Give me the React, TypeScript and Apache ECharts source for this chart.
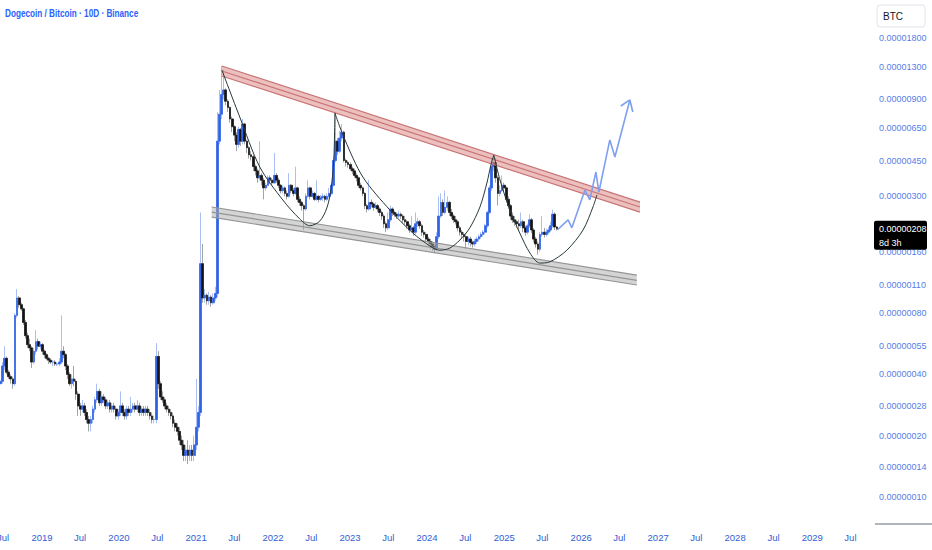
import React, { useEffect, useRef } from "react";
import * as echarts from "echarts";

const FONT = '"Liberation Sans", Arial, sans-serif';

// ---- candles (DOGE/BTC in satoshis, 10D) ----
const startDate = "2018-06-17";
const candleStepDays = 10;
const firstOpen = 36;
const closes = [
  37, 44, 48, 41, 39, 38, 36, 78, 95, 88,
  84, 72, 62, 56, 54, 46, 52, 58, 55, 56,
  52, 50, 48, 47, 46, 46, 45, 45, 46, 52,
  50, 44, 40, 36, 38, 37, 32, 28, 27, 28,
  26, 24, 23, 24, 27, 30, 33, 29, 31, 30,
  28, 29, 27, 28, 27, 25, 26, 28, 26, 25,
  27, 26, 27, 28, 27, 28, 26, 27, 26, 27,
  26, 25, 24, 24, 49, 36, 31, 30, 28, 27,
  26, 25, 23, 22, 21, 19, 18, 16, 17, 16,
  17, 16, 18, 22, 26, 140, 95, 98, 92, 96,
  90, 95, 100, 560, 760, 950, 1000, 880, 820, 720,
  660, 600, 540, 640, 560, 680, 560, 520, 480, 470,
  420, 400, 370, 380, 360, 330, 340, 370, 360, 350,
  380, 360, 340, 320, 330, 310, 300, 340, 320, 310,
  330, 290, 280, 270, 260, 300, 330, 300, 310, 290,
  300, 290, 295, 300, 290, 300, 310, 340, 450, 560,
  500, 580, 620, 450, 440, 430, 410, 400, 380, 370,
  340, 330, 310, 270, 260, 280, 275, 265, 270, 260,
  250, 240, 220, 210, 230, 260, 250, 245, 240, 245,
  240, 230, 225, 215, 205, 210, 200, 220, 225, 215,
  200, 195, 185, 180, 175, 170, 165, 190, 240, 280,
  250, 265, 280, 250, 240, 230, 225, 210, 200, 195,
  190, 180, 185, 178, 175, 180, 185, 190, 195, 200,
  215, 250, 330, 420, 440, 370, 310, 320, 340, 330,
  290, 270, 240, 230, 225, 220, 215, 225, 210, 200,
  215, 230, 205, 185, 175, 165, 195, 200, 195, 200,
  205, 215, 245, 212, 208,
];
const highs = [
  40, 46, 55, 49, 42, 40, 39, 80, 105, 97,
  90, 85, 74, 64, 60, 55, 54, 66, 60, 58,
  57, 53, 51, 49, 48, 47, 47, 46, 48, 78,
  55, 51, 45, 41, 40, 44, 38, 33, 29, 30,
  29, 27, 25, 25, 28, 31, 36, 34, 33, 32,
  31, 30, 30, 29, 29, 28, 27, 33, 29, 27,
  28, 28, 31, 29, 29, 30, 29, 28, 28, 28,
  28, 27, 26, 25, 57, 52, 37, 33, 31, 29,
  28, 27, 26, 24, 23, 22, 20, 19, 18, 19,
  18, 18, 20, 38, 28, 250, 175, 105, 100, 102,
  98, 100, 108, 780, 1000, 1310, 1250, 1020, 900, 830,
  740, 670, 620, 660, 650, 720, 690, 570, 530, 500,
  480, 430, 410, 560, 390, 370, 350, 380, 380, 370,
  490, 390, 370, 345, 340, 335, 320, 390, 345, 330,
  420, 335, 300, 285, 275, 310, 360, 335, 320, 315,
  360, 305, 305, 310, 305, 310, 330, 350, 470, 780,
  580, 630, 680, 630, 460, 450, 440, 420, 410, 390,
  375, 350, 335, 315, 275, 360, 290, 280, 280, 275,
  265, 255, 245, 225, 250, 270, 265, 255, 250, 255,
  250, 245, 240, 230, 220, 240, 215, 250, 235, 230,
  220, 205, 200, 190, 185, 180, 175, 200, 300, 310,
  290, 320, 300, 285, 260, 245, 240, 230, 215, 205,
  200, 195, 190, 190, 182, 185, 190, 195, 200, 205,
  220, 255, 340, 470, 475, 460, 380, 340, 380, 350,
  335, 300, 275, 250, 240, 230, 230, 250, 230, 215,
  220, 245, 235, 210, 190, 180, 200, 240, 210, 208,
  212, 225, 258, 250, 215,
];
const lows = [
  35, 36, 42, 40, 38, 36, 34, 35, 76, 85,
  82, 70, 60, 54, 52, 43, 45, 50, 53, 53,
  50, 48, 47, 45, 45, 44, 44, 44, 44, 45,
  48, 42, 38, 35, 34, 35, 30, 25, 25, 26,
  25, 23, 21, 21, 23, 26, 29, 28, 28, 29,
  27, 27, 26, 26, 26, 24, 24, 25, 25, 24,
  24, 25, 25, 26, 26, 26, 25, 25, 25, 25,
  25, 24, 23, 23, 23, 34, 30, 29, 27, 26,
  25, 24, 22, 21, 20, 18, 17, 15, 15, 14.5,
  15, 15, 15, 17, 21, 25, 90, 90, 88, 88,
  86, 88, 92, 96, 540, 720, 900, 840, 780, 690,
  620, 560, 500, 520, 530, 540, 540, 490, 460, 450,
  400, 380, 350, 360, 340, 290, 320, 335, 345, 340,
  345, 350, 330, 310, 310, 300, 290, 295, 310, 300,
  305, 280, 270, 255, 205, 255, 295, 290, 295, 285,
  285, 280, 285, 285, 280, 285, 295, 305, 335, 440,
  480, 490, 560, 440, 420, 415, 400, 385, 370, 355,
  330, 320, 300, 260, 250, 255, 265, 255, 260, 250,
  240, 230, 210, 200, 205, 225, 240, 238, 232, 235,
  232, 222, 218, 208, 198, 200, 192, 195, 212, 208,
  192, 188, 178, 172, 165, 162, 158, 162, 185, 235,
  240, 245, 255, 240, 232, 222, 218, 202, 192, 185,
  180, 165, 172, 170, 168, 170, 175, 180, 185, 190,
  195, 210, 245, 320, 400, 350, 270, 300, 315, 315,
  280, 260, 230, 222, 215, 210, 205, 210, 200, 192,
  195, 210, 198, 178, 168, 155, 160, 190, 188, 190,
  195, 200, 210, 205, 204,
];

// ---- axes ----
const priceTicks = [1800, 1300, 900, 650, 450, 300, 160, 110, 80, 55, 40, 28, 20, 14, 10];
const timeTicks = [
  "2018-07-01", "2019-01-01", "2019-07-01", "2020-01-01", "2020-07-01", "2021-01-01",
  "2021-07-01", "2022-01-01", "2022-07-01", "2023-01-01", "2023-07-01", "2024-01-01",
  "2024-07-01", "2025-01-01", "2025-07-01", "2026-01-01", "2026-07-01", "2027-01-01",
  "2027-07-01", "2028-01-01", "2028-07-01", "2029-01-01", "2029-07-01",
];
const timeMin = "2018-06-16";
const timeMax = "2029-10-16";
const priceMin = 7.36;
const priceMax = 2767;
const countdown = "8d 3h";
const chartTitle = "Dogecoin / Bitcoin · 10D · Binance";
const currency = "BTC";

// ---- drawings ----
const resistanceDates = ["2021-05-03", "2026-10-07"];
const resistanceTop = [1311, 281];
const resistanceMid = [1239, 266];
const resistanceBottom = [1171, 251];
const supportDates = ["2021-03-16", "2026-09-22"];
const supportTop = [266, 123];
const supportMid = [251, 116];
const supportBottom = [237, 110];

const arc1Dates = ["2021-05-03", "2021-07-27", "2021-10-30", "2022-02-16", "2022-05-08", "2022-06-24", "2022-08-11", "2022-09-13", "2022-10-02", "2022-10-16", "2022-10-21"];
const arc1Values = [1254, 736, 418, 288, 232, 215, 227, 263, 322, 453, 770];
const arc2Dates = ["2022-10-21", "2022-12-08", "2023-03-03", "2023-07-09", "2023-10-26", "2024-01-15", "2024-03-02", "2024-04-18", "2024-06-05", "2024-07-22", "2024-09-08", "2024-10-11", "2024-10-30", "2024-11-13"];
const arc2Values = [770, 568, 373, 257, 198, 171, 163, 167, 183, 210, 266, 349, 428, 479];
const arc3Dates = ["2024-11-13", "2024-12-12", "2025-01-28", "2025-03-16", "2025-05-03", "2025-06-19", "2025-08-06", "2025-10-25", "2026-01-10", "2026-02-26", "2026-03-17"];
const arc3Values = [479, 361, 257, 198, 158, 141, 143, 163, 205, 266, 305];

const projectionDates = ["2025-09-10", "2025-10-31", "2025-11-18", "2026-01-19", "2026-02-11", "2026-03-12", "2026-03-26", "2026-05-17", "2026-06-10", "2026-08-20"];
const projectionValues = [205, 230, 210, 322, 288, 395, 315, 568, 468, 893];
const arrowDates = ["2026-07-08", "2026-08-20", "2026-09-03"];
const arrowValues = [834, 893, 779];

const DAY = 86400000;
function ts(s: string): number {
  const [y, m, d] = s.split("-").map(Number);
  return Date.UTC(y, m - 1, d);
}
const lg = (v: number) => Math.log10(v);

function bandSeries(name: string, dates: string[], top: number[], mid: number[], bot: number[], fill: string, stroke: string) {
  return {
    type: "custom",
    name,
    silent: true,
    z: 4,
    data: [[ts(dates[0]), ts(dates[1]), lg(top[0]), lg(top[1]), lg(mid[0]), lg(mid[1]), lg(bot[0]), lg(bot[1])]],
    encode: { x: [0, 1], y: [2, 3, 4, 5, 6, 7] },
    renderItem: (_p: any, api: any) => {
      const pt = (d: number, v: number) => api.coord([api.value(d), api.value(v)]);
      const t0 = pt(0, 2), t1 = pt(1, 3), m0 = pt(0, 4), m1 = pt(1, 5), b0 = pt(0, 6), b1 = pt(1, 7);
      const ln = (a: number[], b: number[], w: number) => ({
        type: "line",
        shape: { x1: a[0], y1: a[1], x2: b[0], y2: b[1] },
        style: { stroke, lineWidth: w },
      });
      return {
        type: "group",
        children: [
          { type: "polygon", shape: { points: [t0, t1, b1, b0] }, style: { fill } },
          ln(t0, t1, 1.2),
          ln(m0, m1, 1.2),
          ln(b0, b1, 1.2),
        ],
      };
    },
  };
}

function lineSeries(name: string, dates: string[], values: number[], color: string, width: number, smooth: number | boolean) {
  return {
    type: "line",
    name,
    silent: true,
    z: 6,
    symbol: "none",
    smooth,
    data: dates.map((d, i) => [ts(d), lg(values[i])]),
    lineStyle: { color, width },
  };
}

export default function App() {
  const ref = useRef<HTMLDivElement>(null);
  useEffect(() => {
    const chart = echarts.init(ref.current!, null, { renderer: "svg" });
    const t0 = ts(startDate);
    const dates = closes.map((_, i) => t0 + i * candleStepDays * DAY);
    const opens = closes.map((_, i) => (i === 0 ? firstOpen : closes[i - 1]));
    const full = closes.map((c, i) => {
      const o = opens[i];
      const h = Math.max(highs[i], o, c);
      const l = Math.min(lows[i], o, c);
      return [dates[i], lg(o), lg(c), lg(l), lg(h)];
    });
    const bodies = closes.map((c, i) => {
      const o = opens[i];
      return [dates[i], lg(o), lg(c), lg(Math.min(o, c)), lg(Math.max(o, c))];
    });

    chart.setOption({
      animation: false,
      backgroundColor: "#ffffff",
      grid: { left: 0, right: 59, top: 0, bottom: 26, containLabel: false, outerBoundsMode: "none" },
      xAxis: {
        type: "value",
        min: ts(timeMin),
        max: ts(timeMax),
        axisLine: { show: false },
        axisTick: { show: false },
        splitLine: { show: false },
        axisLabel: {
          customValues: timeTicks.map(ts),
          formatter: (v: number) => {
            const d = new Date(v);
            return d.getUTCMonth() === 0 ? String(d.getUTCFullYear()) : "Jul";
          },
          color: "#3060d6",
          fontSize: 9.5,
          fontFamily: FONT,
          margin: 8,
          hideOverlap: false,
        },
      },
      yAxis: {
        type: "value",
        position: "right",
        min: lg(priceMin),
        max: lg(priceMax),
        axisLine: { show: false },
        axisTick: { show: false },
        splitLine: { show: false },
        axisLabel: {
          customValues: priceTicks.map(lg),
          formatter: (v: number) => (Math.pow(10, v) * 1e-8).toFixed(8),
          color: "#5580e6",
          fontSize: 9,
          fontFamily: FONT,
          margin: 6,
          align: "left",
        },
      },
      series: [
        {
          type: "candlestick",
          name: "wicks",
          silent: true,
          z: 2,
          barWidth: 2.2,
          data: full,
          itemStyle: {
            color: "#a9bff5",
            color0: "#a3a3a3",
            borderColor: "#a9bff5",
            borderColor0: "#a3a3a3",
            borderWidth: 1,
          },
        },
        {
          type: "candlestick",
          name: "bodies",
          silent: true,
          z: 3,
          barWidth: 2.2,
          data: bodies,
          itemStyle: {
            color: "#2f62e6",
            color0: "#141414",
            borderColor: "#2f62e6",
            borderColor0: "#141414",
            borderWidth: 0.6,
          },
        },
        bandSeries("resistance", resistanceDates, resistanceTop, resistanceMid, resistanceBottom, "rgba(222,140,140,0.55)", "#c97474"),
        bandSeries("support", supportDates, supportTop, supportMid, supportBottom, "rgba(170,170,170,0.5)", "#959595"),
        lineSeries("arc1", arc1Dates, arc1Values, "#27383a", 1, 0.3),
        lineSeries("arc2", arc2Dates, arc2Values, "#27383a", 1, 0.3),
        lineSeries("arc3", arc3Dates, arc3Values, "#27383a", 1, 0.3),
        lineSeries("projection", projectionDates, projectionValues, "#7f9ff0", 1.6, false),
        lineSeries("arrow", arrowDates, arrowValues, "#7f9ff0", 1.6, false),
      ],
    });

    const last = closes[closes.length - 1];
    const py = chart.convertToPixel({ yAxisIndex: 0 }, lg(last)) as number;
    chart.setOption({
      graphic: [
        {
          type: "text",
          x: 5,
          y: 14,
          scaleX: 0.82,
          z: 100,
          style: {
            text: chartTitle,
            fill: "#2962ff",
            fontSize: 10,
            fontWeight: "bold",
            fontFamily: FONT,
            verticalAlign: "middle",
          },
        },
        {
          type: "rect",
          z: 100,
          shape: { x: 877, y: 5, width: 48, height: 22, r: 3 },
          style: { fill: "#ffffff", stroke: "#e0e3eb", lineWidth: 1 },
        },
        {
          type: "text",
          z: 101,
          x: 883,
          y: 16,
          style: { text: currency, fill: "#131722", fontSize: 10, fontFamily: FONT, verticalAlign: "middle" },
        },
        {
          type: "rect",
          z: 100,
          shape: { x: 874, y: py - 8, width: 53, height: 29, r: 2 },
          style: { fill: "#000000" },
        },
        {
          type: "text",
          z: 101,
          x: 879,
          y: py,
          style: { text: (last * 1e-8).toFixed(8), fill: "#ffffff", fontSize: 9, fontFamily: FONT, verticalAlign: "middle" },
        },
        {
          type: "text",
          z: 101,
          x: 879,
          y: py + 14,
          style: { text: countdown, fill: "#ffffff", fontSize: 9, fontFamily: FONT, verticalAlign: "middle" },
        },
        {
          type: "rect",
          z: 100,
          shape: { x: 875, y: 523, width: 57, height: 2 },
          style: { fill: "#b2b5be" },
        },
      ],
    });

    return () => chart.dispose();
  }, []);
  return <div ref={ref} style={{ position: "absolute", left: 0, top: 0, width: 932, height: 550 }} />;
}
